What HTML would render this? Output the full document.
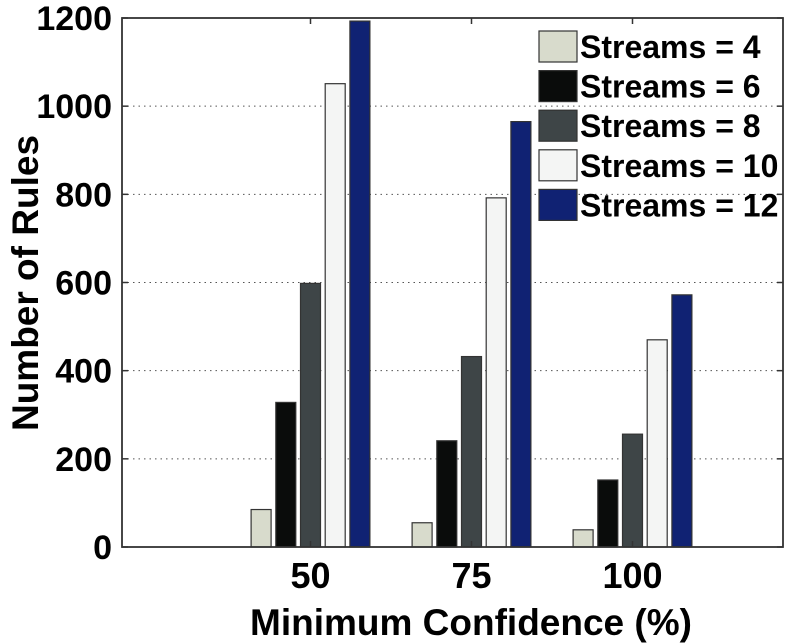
<!DOCTYPE html>
<html><head><meta charset="utf-8"><style>
body{margin:0;background:#fff}
svg{display:block;font-family:"Liberation Sans",sans-serif;font-weight:bold}
</style></head><body>
<svg id="chart" width="794" height="644"></svg>
<script>
const categories=["50","75","100"];
const seriesNames=["Streams = 4","Streams = 6","Streams = 8","Streams = 10","Streams = 12"];
const s4=[85,55,39];
const s6=[328,241,152];
const s8=[598,432,256];
const s10=[1051,792,470];
const s12=[1193,965,572];
const yTicks=[0,200,400,600,800,1000,1200];
const series=[s4,s6,s8,s10,s12];
const colors=["#d8dbcc","#0a0c0b","#3e4547","#f4f5f4","#102273"];
const NS="http://www.w3.org/2000/svg";
const svg=document.getElementById("chart");
const L=122,R=783,T=18,B=547;
function y(v){return B-(v/1200)*(B-T);}
function xc(i){return 310.5+161*i;}
function mk(t,a,p){const e=document.createElementNS(NS,t);for(const k in a)e.setAttribute(k,a[k]);(p||svg).appendChild(e);return e;}
yTicks.forEach(v=>{
 if(v>0&&v<1200){const g=mk("line",{x1:L,x2:R,y1:y(v),y2:y(v),stroke:"#555","stroke-width":1,"stroke-dasharray":"1.5 4"});
 
 }
 const t=mk("text",{x:112,y:y(v)+12,"text-anchor":"end","font-size":34});
 t.textContent=v;
 
 
 mk("line",{x1:L,x2:L+6,y1:y(v),y2:y(v),stroke:"#333","stroke-width":1.5});
 mk("line",{x1:R,x2:R-6,y1:y(v),y2:y(v),stroke:"#333","stroke-width":1.5});
});
const bw=20,step=24.7;
categories.forEach((c,i)=>{
 series.forEach((s,j)=>{
  const x=xc(i)+(j-2)*step-bw/2;
  const r=mk("rect",{x:x,y:y(s[i]),width:bw,height:B-y(s[i]),fill:colors[j],stroke:"#333","stroke-width":1.2});
  
  
 });
 const t=mk("text",{x:xc(i),y:588,"text-anchor":"middle","font-size":36});
 t.textContent=c;
 
 
 mk("line",{x1:xc(i),x2:xc(i),y1:B,y2:B-6,stroke:"#333","stroke-width":1.5});
 mk("line",{x1:xc(i),x2:xc(i),y1:T,y2:T+6,stroke:"#333","stroke-width":1.5});
});
const box=mk("rect",{x:L,y:T,width:R-L,height:B-T,fill:"none",stroke:"#333","stroke-width":1.8});


seriesNames.forEach((n,j)=>{
 const yy=31+j*39.6;
 const r=mk("rect",{x:539,y:yy,width:38,height:31,fill:colors[j],stroke:"#333","stroke-width":1.2});
 
 
 const t=mk("text",{x:580,y:yy+27,"font-size":32});
 t.textContent=n;
 
 
});
const xt=mk("text",{x:471,y:635,"text-anchor":"middle","font-size":37});
xt.textContent="Minimum Confidence (%)";


const yt=mk("text",{x:0,y:0,"text-anchor":"middle","font-size":37,transform:"translate(38,283) rotate(-90)"});
yt.textContent="Number of Rules";


</script>
</body></html>
